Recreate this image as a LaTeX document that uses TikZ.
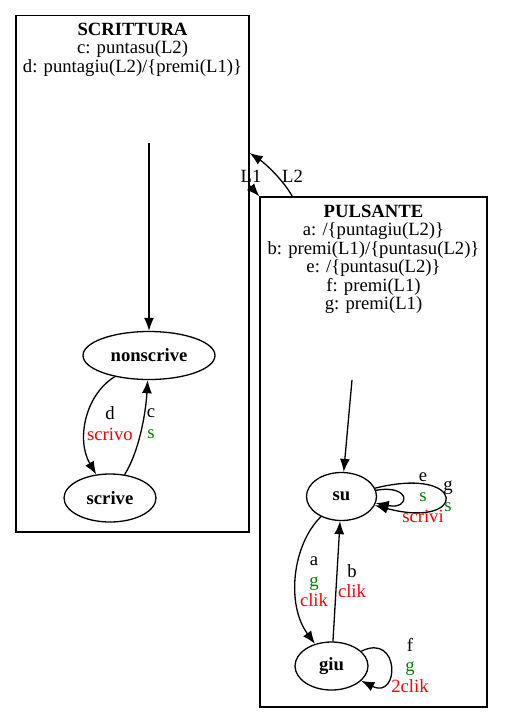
\documentclass[tikz,border=0pt]{standalone}
\usepackage{fontspec}
\setmainfont{Liberation Serif}
\usetikzlibrary{shapes.geometric}
\usetikzlibrary{arrows.meta}
\tikzset{>={Latex[width=10pt,length=13pt]}}
\definecolor{darkgreen}{HTML}{008000}
\definecolor{red}{HTML}{FF0000}
\newcommand{\GREEN}[1]{\textcolor{darkgreen}{#1}}
\newcommand{\RED}[1]{\textcolor{red}{#1}}
\tikzset{
  state/.style={ellipse, draw, line width=1.3pt, inner sep=0pt, minimum height=48pt, font=\fontsize{18.67}{18.5}\selectfont\bfseries},
  cluster/.style={rectangle, draw, line width=1.3pt, inner sep=0pt},
  header/.style={align=center, inner sep=0pt, font=\fontsize{18.67}{18.5}\selectfont},
  lbl/.style={align=center, inner sep=0pt, font=\fontsize{18.67}{20.5}\selectfont},
}
\begin{document}
\begin{tikzpicture}[x=1pt, y=-1pt, line width=1.3pt]

  \useasboundingbox (0,0) rectangle (504,723);

  %% clusters
  \node[cluster, minimum width=233pt, minimum height=516.5pt] (scrittura) at (132.5,273.75) {};
  \node[cluster, minimum width=227pt, minimum height=510pt] (pulsante) at (373.5,452) {};

  \node[header] (scritturaTxt) at (132.5,49.5)
  {\textbf{SCRITTURA}\\c: puntasu(L2)\\d: puntagiu(L2)/\{premi(L1)\}};
  \node[header] (pulsanteTxt) at (373.5,259.3)
  {\textbf{PULSANTE}\\a: /\{puntagiu(L2)\}\\b: premi(L1)/\{puntasu(L2)\}\\
    e: /\{puntasu(L2)\}\\f: premi(L1)\\g: premi(L1)};

  %% states
  \node[state, minimum width=132pt] (nonscrive) at (149,355.5) {nonscrive};
  \node[state, minimum width=92pt] (scrive) at (110,498) {scrive};
  \node[state, minimum width=70pt] (su) at (341.5,496.5) {su};
  \node[state, minimum width=73pt] (giu) at (331.5,666) {giu};

  \coordinate (startScr) at (149,143);
  \coordinate (startPul) at (352,380);

  %% SCRITTURA
  \draw[->] (startScr) -- (nonscrive);
  \draw[->] (nonscrive) .. controls (85,395) and (76,440) .. (scrive); %% d
  \draw[->] (scrive) .. controls (140,450) and (146,410) .. (nonscrive); %% c
  \node[lbl] (lblD) at (110,423.5) {d\\\RED{scrivo}};
  \node[lbl] (lblC) at (151,423.5) {c\\\GREEN{s}};

  %% PULSANTE
  \draw[->] (startPul) -- (su);
  \draw[->] (su) .. controls (292,545) and (286,605) .. (giu); %% a
  \draw[->] (giu) -- (su); %% b
  \draw[->] (su) .. controls (411,484) and (411,510) .. (su); %% e
  \draw[->] (su) .. controls (468,465) and (468,530) .. (su); %% g
  \draw[->] (giu) .. controls (400,632) and (400,700) .. (giu); %% f
  \node[lbl] (lblA) at (314,582) {a\\\GREEN{g}\\\RED{clik}};
  \node[lbl] (lblB) at (352,581) {b\\\RED{clik}};
  \node[lbl] (lblE) at (423,497.5) {e\\\GREEN{s}\\\RED{scrivi}};
  \node[lbl] (lblG) at (448,496.5) {g\\\GREEN{s}};
  \node[lbl] (lblF) at (410,665.5) {f\\\GREEN{g}\\\RED{2clik}};

  %% L1 / L2
  \draw[->] ([xshift=33pt]pulsante.north west)
  .. controls (283,180) and (266,164) .. ([yshift=120.75pt]scrittura.east); %% L2
  \draw[->] ([yshift=88pt]scrittura.east) -- (pulsante.north west); %% L1
  \node[lbl] (lblL1) at (251,176.5) {L1};
  \node[lbl] (lblL2) at (292.5,176.5) {L2};

\end{tikzpicture}
\end{document}
